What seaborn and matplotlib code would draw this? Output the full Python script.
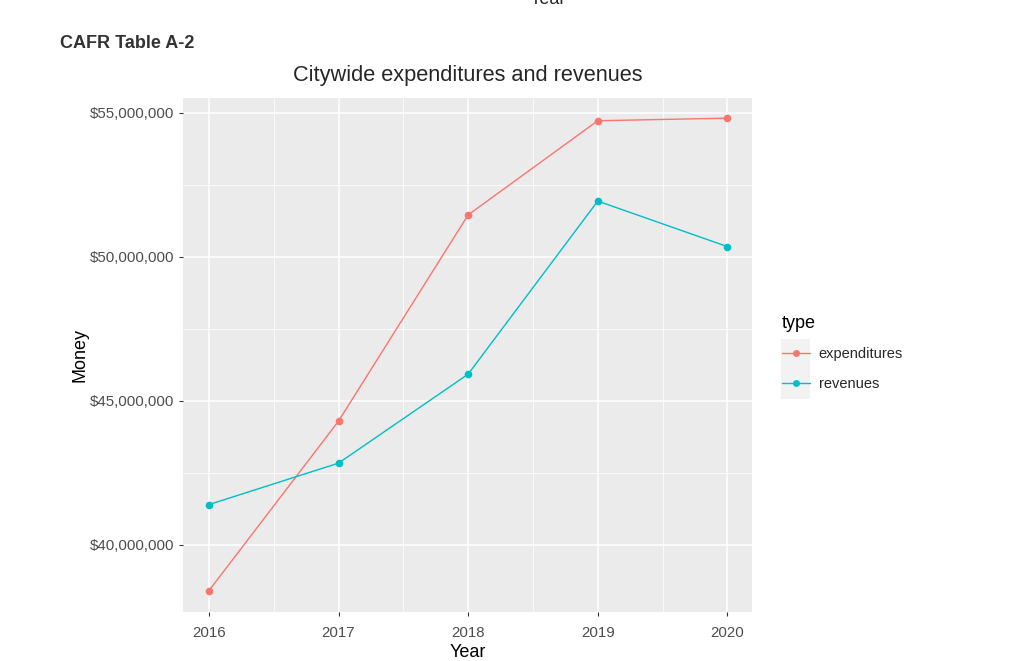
import matplotlib
matplotlib.use("Agg")
import matplotlib.pyplot as plt
import matplotlib.ticker as mticker
from matplotlib.patches import Rectangle
import pandas as pd
import seaborn as sns

years = [2016, 2017, 2018, 2019, 2020]
expenditures = [38410000, 44300000, 51460000, 54730000, 54820000]
revenues = [41400000, 42840000, 45930000, 51940000, 50360000]
types = ["expenditures", "revenues"]
palette = {"expenditures": "#F8766D", "revenues": "#00BFC4"}


def main() -> None:
    df = pd.DataFrame({
        "Year": years * 2,
        "Money": expenditures + revenues,
        "type": ["expenditures"] * len(years) + ["revenues"] * len(years),
    })

    sns.set_theme(style="darkgrid")
    plt.rcParams["font.family"] = ["Liberation Sans", "DejaVu Sans"]

    fig = plt.figure(figsize=(10.24, 6.61), dpi=100)
    ax = fig.add_axes([183 / 1024, 49 / 661, 569 / 1024, 514 / 661])
    ax.set_facecolor("#EBEBEB")

    sns.lineplot(data=df, x="Year", y="Money", hue="type", hue_order=types,
                 palette=palette, marker="o", markersize=5.5, markeredgewidth=0,
                 linewidth=1.0, ax=ax, legend=False)

    ax.set_xlim(2015.8, 2020.19)
    ax.set_ylim(37670000, 55520000)
    ax.set_xticks(years)
    ax.set_yticks([40000000, 45000000, 50000000, 55000000])
    ax.xaxis.set_minor_locator(mticker.MultipleLocator(0.5))
    ax.yaxis.set_minor_locator(mticker.MultipleLocator(2500000))
    ax.yaxis.set_major_formatter(mticker.FuncFormatter(lambda v, _: f"${v:,.0f}"))
    ax.grid(which="major", color="white", linewidth=1.1)
    ax.grid(which="minor", color="white", linewidth=0.55)
    ax.tick_params(which="major", length=3, width=0.8, color="#333333",
                   labelcolor="#4D4D4D", labelsize=10.8, pad=3, bottom=True, left=True)
    ax.tick_params(axis="x", which="major", pad=7)
    ax.tick_params(which="minor", length=0)
    for s in ax.spines.values():
        s.set_visible(False)
    ax.set_xlabel("Year", fontsize=13, color="black", labelpad=3)
    ax.set_ylabel("Money", fontsize=13, color="black", labelpad=1)
    ax.set_title("Citywide expenditures and revenues", fontsize=15.7, pad=12)

    # texts outside the panel
    fig.text(548 / 1024, 1.0, "Year", ha="center", va="center", fontsize=13)
    fig.text(60 / 1024, 1 - 43 / 661, "CAFR Table A-2", ha="left", va="center",
             fontsize=13, fontweight="bold", color="#333333")

    # legend in the ggplot style
    fig.patches.append(Rectangle((781 / 1024, 1 - 399 / 661), 29 / 1024, 60 / 661,
                                 transform=fig.transFigure, facecolor="#F2F2F2",
                                 edgecolor="none", zorder=0))
    handles = [plt.Line2D([], [], color=palette[t], marker="o", markersize=5,
                          markeredgewidth=0, linewidth=1.0) for t in types]
    leg = fig.legend(handles, types, loc="upper left",
                     bbox_to_anchor=(769 / 1024, 1 - 302 / 661), frameon=False,
                     title="type", fontsize=10.5, title_fontsize=13,
                     handlelength=1.9, handletextpad=0.6, labelspacing=1.05,
                     alignment="left")
    leg.get_title().set_color("black")

    fig.savefig("out.png", dpi=100, facecolor="white")


if __name__ == "__main__":
    main()
